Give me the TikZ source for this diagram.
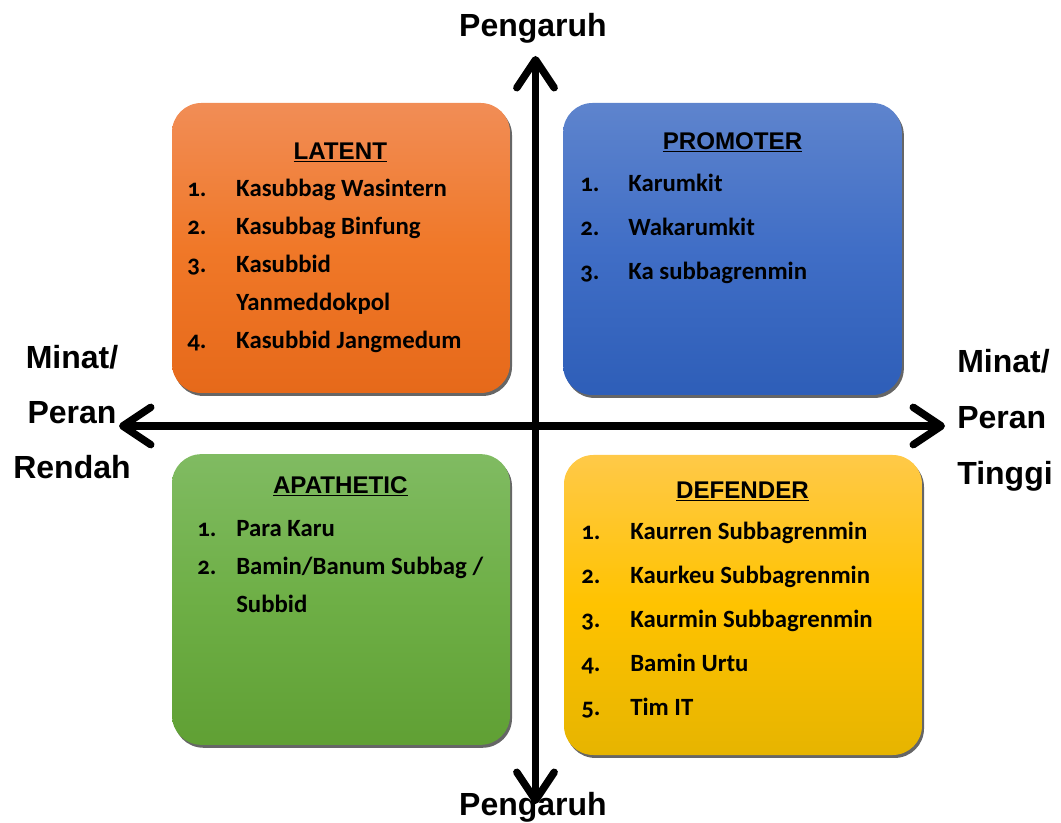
\documentclass[tikz,border=0pt]{standalone}
\usepackage{fontspec}
\setmainfont{Carlito}[Numbers=OldStyle]
\newfontfamily\headfont{Liberation Sans}
\usetikzlibrary{arrows.meta,shadows}
\definecolor{latentTop}{RGB}{241,141,86}
\definecolor{latentMid}{RGB}{240,120,40}
\definecolor{latentBot}{RGB}{230,105,26}
\definecolor{promTop}{RGB}{94,132,205}
\definecolor{promMid}{RGB}{64,110,198}
\definecolor{promBot}{RGB}{46,94,184}
\definecolor{apaTop}{RGB}{128,187,98}
\definecolor{apaMid}{RGB}{110,175,70}
\definecolor{apaBot}{RGB}{96,160,52}
\definecolor{defTop}{RGB}{255,201,72}
\definecolor{defMid}{RGB}{255,195,0}
\definecolor{defBot}{RGB}{230,180,0}

\begin{document}
\begin{tikzpicture}[x={(0.75pt,0)}, y={(0,-0.75pt)},
	    quad/.style={rectangle, rounded corners=22pt, draw=none,
	      drop shadow={shadow xshift=1.5pt, shadow yshift=-2.2pt, fill=black!60, opacity=1}},
	    title/.style={font=\headfont\bfseries\fontsize{18.1pt}{20pt}\selectfont, inner sep=0pt, anchor=base},
	    items/.style={font=\bfseries\fontsize{18.6pt}{#1}\selectfont, inner sep=0pt, anchor=base west},
	    side/.style={font=\headfont\bfseries\fontsize{24pt}{#1}\selectfont, inner sep=0pt},
	    axis/.style={draw=black, line width=5.6pt, {Straight Barb[length=21pt, width=28pt, line cap=round, round]}-{Straight Barb[length=21pt, width=28pt, line cap=round, round]}}]

	    \useasboundingbox (0,0) rectangle (1061,823);

	    % quadrants
	    \node [quad, top color=latentTop, bottom color=latentBot, middle color=latentMid, minimum width=253.5pt, minimum height=217.5pt] (latent) at (341,248) {};
	    \node [quad, top color=promTop, bottom color=promBot, middle color=promMid, minimum width=254pt, minimum height=219pt] (promoter) at (732.5,249) {};
	    \node [quad, top color=apaTop, bottom color=apaBot, middle color=apaMid, minimum width=253.5pt, minimum height=218pt] (apathetic) at (341,599.5) {};
	    \node [quad, top color=defTop, bottom color=defBot, middle color=defMid, minimum width=268.5pt, minimum height=225pt] (defender) at (743,605) {};

	    \node [title] (latentT) at (340.3,159.3) {\underline{LATENT}};
	    \node [title] (promoterT) at (732.5,149.3) {\underline{PROMOTER}};
	    \node [title] (apatheticT) at (340.3,493.3) {\underline{APATHETIC}};
	    \node [title] (defenderT) at (742.5,498.3) {\underline{DEFENDER}};

	    \node [items=28.5pt] (latentL) at (187,197) {\begin{tabular}[t]{@{}p{36.75pt}@{}l@{}}
	      1. & Kasubbag Wasintern\\ 2. & Kasubbag Binfung\\ 3. & Kasubbid\\ & Yanmeddokpol\\ 4. & Kasubbid Jangmedum\end{tabular}};
	    \node [items=33pt] (promoterL) at (580,192) {\begin{tabular}[t]{@{}p{36pt}@{}l@{}}
	      1. & Karumkit\\ 2. & Wakarumkit\\ 3. & Ka subbagrenmin\end{tabular}};
	    \node [items=28.5pt] (apatheticL) at (197,537) {\begin{tabular}[t]{@{}p{29.25pt}@{}l@{}}
	      1. & Para Karu\\ 2. & Bamin/Banum Subbag /\\ & Subbid\end{tabular}};
	    \node [items=33pt] (defenderL) at (581,540) {\begin{tabular}[t]{@{}p{36.75pt}@{}l@{}}
	      1. & Kaurren Subbagrenmin\\ 2. & Kaurkeu Subbagrenmin\\ 3. & Kaurmin Subbagrenmin\\ 4. & Bamin Urtu\\ 5. & Tim IT\end{tabular}};

	    % axes
	    \coordinate (up) at (535.5,56);
	    \coordinate (down) at (535.5,804);
	    \coordinate (low) at (119,426);
	    \coordinate (high) at (945,426);
	    \path [axis] (down) -- (up);
	    \path [axis] (low) -- (high);

	    \node [side=41pt, anchor=base] (infTop) at (533,37) {Pengaruh};
	    \node [side=41pt, anchor=base] (infBot) at (533,815) {Pengaruh};
	    \node [side=41pt, anchor=base] (lowLbl) at (72,369) {\begin{tabular}[t]{@{}c@{}}Minat/\\ Peran\\ Rendah\end{tabular}};
	    \node [side=42pt, anchor=base west] (highLbl) at (957,373) {\begin{tabular}[t]{@{}l@{}}Minat/\\ Peran\\ Tinggi\end{tabular}};
	\end{tikzpicture}
\end{document}
